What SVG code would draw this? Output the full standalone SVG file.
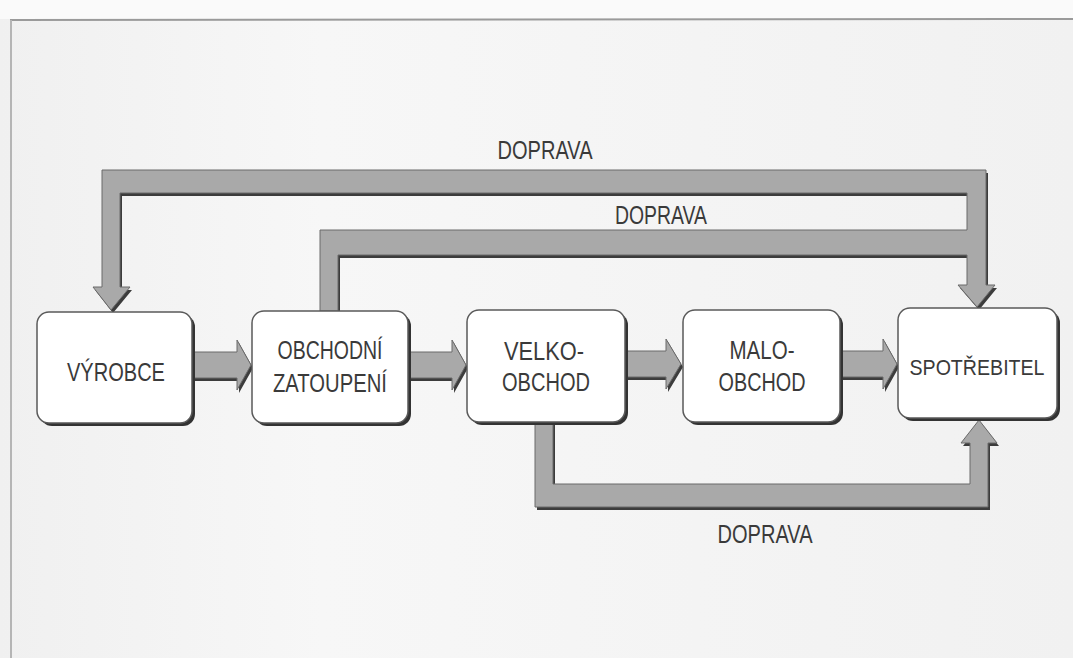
<svg xmlns="http://www.w3.org/2000/svg" width="1073" height="658" viewBox="0 0 1073 658">
  <defs>
    <linearGradient id="bg" x1="0" y1="0" x2="1" y2="0">
      <stop offset="0" stop-color="#f0f0f0"/>
      <stop offset="0.3" stop-color="#f7f7f7"/>
      <stop offset="1" stop-color="#f1f1f1"/>
    </linearGradient>
    <style>
      .conn { fill: #a9a9a9; stroke: #6a6a6a; stroke-width: 1; stroke-linejoin: miter; }
      .connShadow { fill: #3c3c3c; }
      .box { fill: #ffffff; stroke: #5a5a5a; stroke-width: 1.5; }
      .boxShadow { fill: #333333; }
      .lbl { font-family: "Liberation Sans", Arial, sans-serif; font-size: 25px; fill: #3a3a3a; text-anchor: middle; }
      .small { font-size: 22px; }
    </style>
  </defs>

  <rect x="0" y="0" width="1073" height="658" fill="url(#bg)"/>
  <rect x="0" y="0" width="1073" height="19" fill="#fafafa"/>
  <line x1="10" y1="20" x2="1073" y2="19" stroke="#9a9a9a" stroke-width="2"/>
  <line x1="11" y1="20" x2="11" y2="658" stroke="#b5b5b5" stroke-width="2"/>

  <g id="connectors">
    <g class="connShadow" transform="translate(2,3)">
      <polygon points="102,170 986,170 986,285 995,285 977,307 958,285 967,285 967,255 338,255 338,311 320,311 320,230 967,230 967,193 120,193 120,287 130,287 111,310 93,287 102,287"/>
      <polygon points="535,422 535,507 988,507 988,443 997,443 979,420 961,443 970,443 970,484 553,484 553,422"/>
      <polygon points="193,352 237,352 237,340 251,365 237,390 237,378 193,378"/>
      <polygon points="408,352 452,352 452,340 466,365 452,390 452,378 408,378"/>
      <polygon points="625,351 666,351 666,339 681,364 666,389 666,377 625,377"/>
      <polygon points="840,351 883,351 883,339 897,364 883,389 883,377 840,377"/>
    </g>
    <polygon class="conn" points="102,170 986,170 986,285 995,285 977,307 958,285 967,285 967,255 338,255 338,311 320,311 320,230 967,230 967,193 120,193 120,287 130,287 111,310 93,287 102,287"/>
    <polygon class="conn" points="535,422 535,507 988,507 988,443 997,443 979,420 961,443 970,443 970,484 553,484 553,422"/>
    <polygon class="conn" points="193,352 237,352 237,340 251,365 237,390 237,378 193,378"/>
    <polygon class="conn" points="408,352 452,352 452,340 466,365 452,390 452,378 408,378"/>
    <polygon class="conn" points="625,351 666,351 666,339 681,364 666,389 666,377 625,377"/>
    <polygon class="conn" points="840,351 883,351 883,339 897,364 883,389 883,377 840,377"/>
  </g>

  <g id="labels">
    <text class="lbl" x="545" y="159" textLength="95" lengthAdjust="spacingAndGlyphs">DOPRAVA</text>
    <text class="lbl" x="661" y="224" textLength="92" lengthAdjust="spacingAndGlyphs">DOPRAVA</text>
    <text class="lbl" x="765" y="543" textLength="95" lengthAdjust="spacingAndGlyphs">DOPRAVA</text>
  </g>

  <g id="vyrobce">
    <rect class="boxShadow" x="40" y="315" width="155" height="111" rx="12"/>
    <rect class="box" x="37" y="312" width="155" height="111" rx="12"/>
    <text class="lbl" x="116" y="381" textLength="98" lengthAdjust="spacingAndGlyphs">VÝROBCE</text>
  </g>

  <g id="obchodni-zastoupeni">
    <rect class="boxShadow" x="255" y="314" width="156" height="112" rx="12"/>
    <rect class="box" x="252" y="311" width="156" height="112" rx="12"/>
    <text class="lbl" x="330" y="359" textLength="105" lengthAdjust="spacingAndGlyphs">OBCHODNÍ</text>
    <text class="lbl" x="330" y="392" textLength="114" lengthAdjust="spacingAndGlyphs">ZATOUPENÍ</text>
  </g>

  <g id="velkoobchod">
    <rect class="boxShadow" x="470" y="313" width="158" height="112" rx="12"/>
    <rect class="box" x="467" y="310" width="158" height="112" rx="12"/>
    <text class="lbl" x="544" y="360" textLength="80" lengthAdjust="spacingAndGlyphs">VELKO-</text>
    <text class="lbl" x="546" y="391" textLength="88" lengthAdjust="spacingAndGlyphs">OBCHOD</text>
  </g>

  <g id="maloobchod">
    <rect class="boxShadow" x="686" y="313" width="157" height="112" rx="12"/>
    <rect class="box" x="683" y="310" width="157" height="112" rx="12"/>
    <text class="lbl" x="762" y="359" textLength="65" lengthAdjust="spacingAndGlyphs">MALO-</text>
    <text class="lbl" x="762" y="391" textLength="87" lengthAdjust="spacingAndGlyphs">OBCHOD</text>
  </g>

  <g id="spotrebitel">
    <rect class="boxShadow" x="901" y="311" width="159" height="110" rx="12"/>
    <rect class="box" x="898" y="308" width="159" height="110" rx="12"/>
    <text class="lbl small" x="977" y="375" textLength="135" lengthAdjust="spacingAndGlyphs">SPOTŘEBITEL</text>
  </g>
</svg>
